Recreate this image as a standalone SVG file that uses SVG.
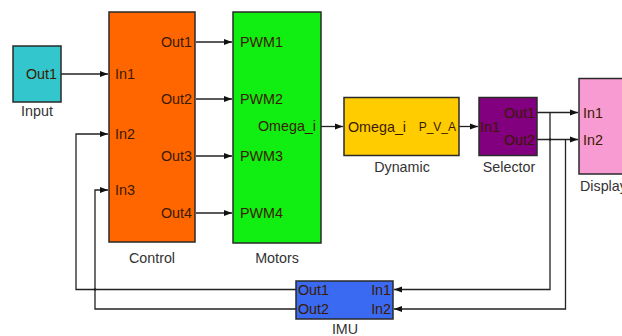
<svg xmlns="http://www.w3.org/2000/svg" width="622" height="336" viewBox="0 0 622 336">
<style>
.blk{stroke:#2a2a2a;stroke-width:1.5}
.pt{font-family:"Liberation Sans",Arial,sans-serif;font-size:14.3px;fill:#3a1a00}
.lb{font-family:"Liberation Sans",Arial,sans-serif;font-size:14.3px;fill:#333}
.w{fill:none;stroke:#222;stroke-width:1.3}
</style>
<defs>
<marker id="ah" viewBox="0 0 8 8" refX="8" refY="4" markerWidth="8" markerHeight="8" markerUnits="userSpaceOnUse" orient="auto">
<path d="M0,1 L8,4 L0,7 Z" fill="#111"/>
</marker>
</defs>
<rect width="622" height="336" fill="#fff"/>
<g id="connectors">
<path class="w" marker-end="url(#ah)" d="M61,74 H108"/>
<path class="w" marker-end="url(#ah)" d="M196,42 H232"/>
<path class="w" marker-end="url(#ah)" d="M196,99 H232"/>
<path class="w" marker-end="url(#ah)" d="M196,156 H232"/>
<path class="w" marker-end="url(#ah)" d="M196,213 H232"/>
<path class="w" marker-end="url(#ah)" d="M321,126.5 H343"/>
<path class="w" marker-end="url(#ah)" d="M459,126.5 H478"/>
<path class="w" marker-end="url(#ah)" d="M537,112.5 H578"/>
<path class="w" marker-end="url(#ah)" d="M537,139.5 H578"/>
<path class="w" marker-end="url(#ah)" d="M550,112.5 V289.5 H394"/>
<path class="w" marker-end="url(#ah)" d="M565.5,139.5 V309 H394"/>
<path class="w" marker-end="url(#ah)" d="M296,289.5 H76 V134 H108"/>
<path class="w" marker-end="url(#ah)" d="M296,309 H95 V190 H108"/>
<circle cx="550" cy="139.5" r="1.3" fill="#222"/>
<circle cx="95" cy="289.5" r="1.3" fill="#222"/>
</g>
<g id="input">
<rect class="blk" x="13" y="46" width="48" height="56" fill="#33c6cc"/>
<text class="pt" x="57" y="79" text-anchor="end" fill="#123">Out1</text>
<text class="lb" x="37" y="116" text-anchor="middle">Input</text>
</g>
<g id="control">
<rect class="blk" x="109" y="12" width="86" height="230" fill="#ff6600"/>
<text class="pt" x="115" y="79">In1</text>
<text class="pt" x="115" y="139">In2</text>
<text class="pt" x="115" y="195">In3</text>
<text class="pt" x="192" y="47" text-anchor="end">Out1</text>
<text class="pt" x="192" y="104" text-anchor="end">Out2</text>
<text class="pt" x="192" y="161" text-anchor="end">Out3</text>
<text class="pt" x="192" y="218" text-anchor="end">Out4</text>
<text class="lb" x="152" y="263" text-anchor="middle">Control</text>
</g>
<g id="motors">
<rect class="blk" x="233" y="12" width="88" height="231" fill="#11ee11"/>
<text class="pt" x="240" y="47" fill="#0a3a0a">PWM1</text>
<text class="pt" x="240" y="104" fill="#0a3a0a">PWM2</text>
<text class="pt" x="240" y="161" fill="#0a3a0a">PWM3</text>
<text class="pt" x="240" y="218" fill="#0a3a0a">PWM4</text>
<text class="pt" x="316" y="131" text-anchor="end" fill="#0a3a0a">Omega_i</text>
<text class="lb" x="277" y="263" text-anchor="middle">Motors</text>
</g>
<g id="dynamic">
<rect class="blk" x="344" y="97.5" width="115" height="58" fill="#ffcc00"/>
<text class="pt" x="348" y="132" fill="#332200">Omega_i</text>
<text class="pt" x="456" y="131" text-anchor="end" fill="#332200" style="font-size:12px">P_V_A</text>
<text class="lb" x="402" y="172" text-anchor="middle">Dynamic</text>
</g>
<g id="selector">
<rect class="blk" x="479" y="97.5" width="58" height="58" fill="#82007f"/>
<text class="pt" x="480" y="132" fill="#2a0030">In1</text>
<text class="pt" x="535" y="118" text-anchor="end" fill="#2a0030">Out1</text>
<text class="pt" x="535" y="145" text-anchor="end" fill="#2a0030">Out2</text>
<text class="lb" x="509" y="172" text-anchor="middle">Selector</text>
</g>
<g id="display">
<rect class="blk" x="579" y="78.5" width="50" height="95.5" fill="#f89bd3"/>
<text class="pt" x="583" y="118">In1</text>
<text class="pt" x="583" y="145">In2</text>
<text class="lb" x="580" y="191">Display</text>
</g>
<g id="imu">
<rect class="blk" x="296" y="281" width="97" height="38" fill="#3a6af2"/>
<text class="pt" x="298" y="294.5" fill="#0c1a48">Out1</text>
<text class="pt" x="298" y="314" fill="#0c1a48">Out2</text>
<text class="pt" x="391" y="294.5" text-anchor="end" fill="#0c1a48">In1</text>
<text class="pt" x="391" y="314" text-anchor="end" fill="#0c1a48">In2</text>
<text class="lb" x="345" y="334" text-anchor="middle">IMU</text>
</g>
</svg>
